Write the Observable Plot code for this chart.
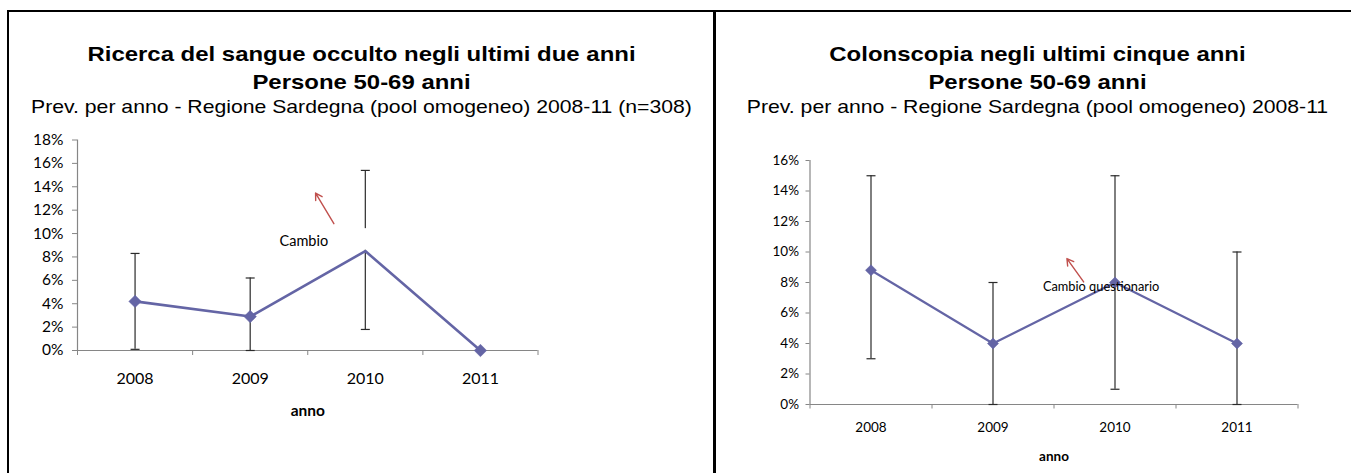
<!DOCTYPE html>
<html><head><meta charset="utf-8">
<script src="https://cdn.jsdelivr.net/npm/d3@7"></script>
<script src="https://cdn.jsdelivr.net/npm/@observablehq/plot@0.6"></script>
<style>
body{margin:0;background:#fff;}
#wrap{position:relative;width:1351px;height:473px;overflow:hidden;background:#fff;font-family:"Liberation Sans",Arial,sans-serif;}
.ln{position:absolute;background:#000;}
.t{position:absolute;text-align:center;white-space:nowrap;transform:scaleX(1.14);transform-origin:50% 50%;color:#000;line-height:1;z-index:2;}
.b{font-weight:bold;font-size:21px;}
.s{font-size:18.6px;}
.chart{position:absolute;top:0;z-index:1;}
</style></head><body>
<div id="wrap">
  <div class="ln" style="left:7px;top:10px;width:1344px;height:2px;"></div>
  <div class="ln" style="left:7px;top:10px;width:2px;height:463px;"></div>
  <div class="ln" style="left:713px;top:10px;width:2.5px;height:463px;"></div>
  <div id="left" class="chart" style="left:0px;"></div>
  <div id="right" class="chart" style="left:714px;"></div>
  <div class="t b" style="left:8px;width:707px;top:43px;">Ricerca del sangue occulto negli ultimi due anni</div>
  <div class="t b" style="left:8px;width:707px;top:70.5px;">Persone 50-69 anni</div>
  <div class="t s" style="left:8px;width:707px;top:97.6px;">Prev. per anno - Regione Sardegna (pool omogeneo) 2008-11 (n=308)</div>
  <div class="t b" style="left:714px;width:647px;top:43px;">Colonscopia negli ultimi cinque anni</div>
  <div class="t b" style="left:714px;width:647px;top:70.5px;">Persone 50-69 anni</div>
  <div class="t s" style="left:714px;width:647px;top:97.6px;">Prev. per anno - Regione Sardegna (pool omogeneo) 2008-11</div>
</div>
<script>
// ---- data ----
const years = [2008, 2009, 2010, 2011];
const fobtValue = [4.2, 2.9, 8.5, 0];
const fobtLow   = [0.1, 0, 1.8, null];
const fobtHigh  = [8.3, 6.2, 15.4, null];
const fobtMarkerHidden = [2010];
const colonValue = [8.8, 4.0, 8.0, 4.0];
const colonLow   = [3, 0, 1, 0];
const colonHigh  = [15, 8, 15, 10];
const yTicksLeft  = [0, 2, 4, 6, 8, 10, 12, 14, 16, 18];
const yTicksRight = [0, 2, 4, 6, 8, 10, 12, 14, 16];
const xLabel = "anno";
const leftNote  = {text: "Cambio", x: 2009.466, y: 9.32, ax1: 2009.727, ay1: 10.84, ax2: 2009.568, ay2: 13.46,
                   bx1: 2009.05, bx2: 2010.06, by1: 8.58, by2: 10.42};
const rightNote = {text: "Cambio questionario", x: 2009.409, y: 7.72, ax1: 2009.743, ay1: 8.04, ax2: 2009.606, ay2: 9.57};

const lineColor = "#6465A5";
const axisGray = "#868686";
const errColor = "#2a2a2a";
const arrowColor = "#C0504D";

function rows(v, lo, hi) {
  return years.map((y, i) => ({year: y, value: v[i], low: lo[i], high: hi[i]}));
}
function capSymbol(half) {
  return {draw(ctx) { ctx.moveTo(-half, 0); ctx.lineTo(half, 0); }};
}
const bounds = [years[0] - 0.5, ...years.map(y => y + 0.5)];

function makeChart(o) {
  const data = rows(o.v, o.lo, o.hi);
  const errs = data.filter(d => d.low != null);
  const marks = [
    Plot.ruleY([0], {stroke: axisGray, strokeWidth: 1.2}),
    Plot.ruleX([bounds[0]], {stroke: axisGray, strokeWidth: 1.2}),
    Plot.axisY({ticks: o.yTicks, tickFormat: d => d + "%", tickSize: o.ytick, tickPadding: o.ypad,
                stroke: axisGray, fill: "#000", fontSize: o.yfs}),
    Plot.axisX({ticks: bounds, tickFormat: () => "", tickSize: o.xtick, stroke: axisGray}),
    Plot.axisX({ticks: years, tickFormat: d => String(d), tickSize: 0, tickPadding: o.xpad,
                fill: "#000", fontSize: o.xfs}),
    Plot.ruleX(errs, {x: "year", y1: "low", y2: "high", stroke: errColor, strokeWidth: 1.2}),
    Plot.dot(errs, {x: "year", y: "low", symbol: capSymbol(4.5), stroke: errColor, strokeWidth: 1.2, fill: "none"}),
    Plot.dot(errs, {x: "year", y: "high", symbol: capSymbol(4.5), stroke: errColor, strokeWidth: 1.2, fill: "none"}),
    Plot.line(data, {x: "year", y: "value", stroke: lineColor, strokeWidth: o.lw}),
    Plot.dot(data.filter(d => !(o.hidden || []).includes(d.year)),
             {x: "year", y: "value", symbol: "diamond2", r: o.mr, fill: lineColor, stroke: lineColor, strokeWidth: 0.5}),
  ];
  const n = o.note;
  if (n.bx1 != null) marks.push(Plot.rect([n], {x1: "bx1", x2: "bx2", y1: "by1", y2: "by2", fill: "white"}));
  marks.push(Plot.text([n], {x: "x", y: "y", text: "text", textAnchor: o.noteAnchor, fontSize: o.nfs, fill: "#000"}));
  marks.push(Plot.arrow([n], {x1: "ax1", y1: "ay1", x2: "ax2", y2: "ay2", stroke: arrowColor, strokeWidth: 1.4, headLength: 8}));
  marks.push(Plot.text([xLabel], {frameAnchor: "bottom", dy: o.ldy, fontWeight: "bold", fontSize: o.lfs, fill: "#000"}));
  return Plot.plot({
    width: o.width, height: 473,
    marginLeft: o.ml, marginRight: o.mr2, marginTop: o.mt, marginBottom: o.mb,
    x: {type: "linear", domain: [bounds[0], bounds[bounds.length - 1]], axis: null},
    y: {domain: o.ydom, axis: null},
    style: {fontFamily: "Lato, 'Open Sans', sans-serif", background: "transparent", overflow: "visible"},
    marks
  });
}

document.getElementById("left").append(makeChart({
  v: fobtValue, lo: fobtLow, hi: fobtHigh, hidden: fobtMarkerHidden,
  yTicks: yTicksLeft, ydom: [0, 18],
  width: 714, ml: 77, mr2: 176.5, mt: 139.5, mb: 123,
  ytick: 5, ypad: 9, yfs: 15.5, xtick: 5, xpad: 22, xfs: 16,
  lw: 2.6, mr: 5.6, note: leftNote, noteAnchor: "middle", nfs: 14.5, ldy: 65, lfs: 15.5
}));
document.getElementById("right").append(makeChart({
  v: colonValue, lo: colonLow, hi: colonHigh,
  yTicks: yTicksRight, ydom: [0, 16],
  width: 637, ml: 95.5, mr2: 53.5, mt: 160, mb: 69,
  ytick: 4, ypad: 7, yfs: 13.5, xtick: 4.5, xpad: 18, xfs: 13.5,
  lw: 2.2, mr: 5, note: rightNote, noteAnchor: "start", nfs: 12.8, ldy: 56, lfs: 13.5
}));
</script>
</body></html>
